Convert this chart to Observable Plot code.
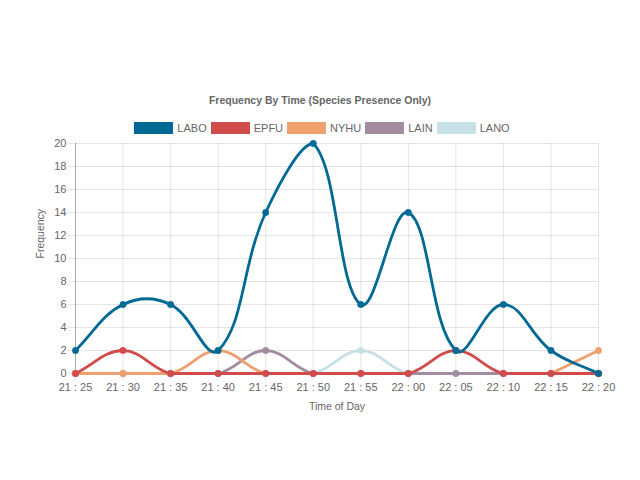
<!DOCTYPE html>
<html><head><meta charset="utf-8">
<script src="https://cdn.jsdelivr.net/npm/d3@7"></script>
<script src="https://cdn.jsdelivr.net/npm/@observablehq/plot@0.6"></script>
<style>
body{margin:0;background:#fff;font-family:"Liberation Sans",Arial,Helvetica,sans-serif;}
#wrap{width:640px;}
#title{margin-top:92px;height:16px;line-height:16px;text-align:center;font-weight:bold;font-size:10.5px;color:#666;}
#legend{margin-top:13px;height:14px;display:flex;justify-content:center;gap:4px;font-size:11px;color:#666;line-height:14px;padding-left:4px}
.item{display:flex;align-items:center}
.sw{width:39px;height:12px;margin-right:4px;box-sizing:border-box}
#chart{margin-top:1px;height:290px}
#chart svg{display:block}
</style></head><body>
<div id="wrap">
<div id="title">Frequency By Time (Species Presence Only)</div>
<div id="legend"></div>
<div id="chart"></div>
</div>
<script>
const times = ["21 : 25","21 : 30","21 : 35","21 : 40","21 : 45","21 : 50","21 : 55","22 : 00","22 : 05","22 : 10","22 : 15","22 : 20"];
const seriesNames = ["LABO","EPFU","NYHU","LAIN","LANO"];
const seriesColors = ["#006a94","#d14b4b","#eea06f","#a38ba0","#c6e1e6"];
const LABO = [2,6,6,2,14,20,6,14,2,6,2,0];
const EPFU = [0,2,0,0,0,0,0,0,2,0,0,0];
const NYHU = [0,0,0,2,0,0,0,null,null,null,0,2];
const LAIN = [0,0,0,0,2,0,0,0,0,0,0,0];
const LANO = [0,0,0,0,0,0,2,0,0,0,0,0];
const yTicks = [0,2,4,6,8,10,12,14,16,18,20];
const xTitle = "Time of Day";
const yTitle = "Frequency";

const seriesValues = [LABO, EPFU, NYHU, LAIN, LANO];

// legend
const legend = document.getElementById("legend");
seriesNames.forEach((name, i) => {
  const it = document.createElement("div"); it.className = "item";
  const sw = document.createElement("div"); sw.className = "sw"; sw.style.background = seriesColors[i];
  const tx = document.createElement("span"); tx.textContent = name;
  it.appendChild(sw); it.appendChild(tx); legend.appendChild(it);
});

const W = 640, H = 290, mT = 7, mB = 53, mL = 75, mR = 42;

// Chart.js-like tension curve (tension 0.4) with control points capped to chart area
function chartjsCurve(context) {
  let pts = [];
  const left = mL, right = W - mR, top = mT, bottom = H - mB, t = 0.4;
  const cap = (v, a, b) => Math.max(a, Math.min(b, v));
  return {
    areaStart() {}, areaEnd() {},
    lineStart() { pts = []; },
    point(x, y) { pts.push([+x, +y]); },
    lineEnd() {
      const n = pts.length;
      if (!n) return;
      const cps = pts.map((p, i) => {
        const prev = pts[i - 1] || p, next = pts[i + 1] || p;
        const d01 = Math.hypot(p[0] - prev[0], p[1] - prev[1]);
        const d12 = Math.hypot(next[0] - p[0], next[1] - p[1]);
        let s01 = d01 / (d01 + d12), s12 = d12 / (d01 + d12);
        if (isNaN(s01)) s01 = 0; if (isNaN(s12)) s12 = 0;
        const fa = t * s01, fb = t * s12;
        return {
          px: cap(p[0] - fa * (next[0] - prev[0]), left, right),
          py: cap(p[1] - fa * (next[1] - prev[1]), top, bottom),
          nx: cap(p[0] + fb * (next[0] - prev[0]), left, right),
          ny: cap(p[1] + fb * (next[1] - prev[1]), top, bottom)
        };
      });
      context.moveTo(pts[0][0], pts[0][1]);
      for (let i = 1; i < n; i++) {
        context.bezierCurveTo(cps[i - 1].nx, cps[i - 1].ny, cps[i].px, cps[i].py, pts[i][0], pts[i][1]);
      }
    }
  };
}

const marks = [
  Plot.gridY(yTicks, {stroke: "#000", strokeOpacity: 0.1, strokeWidth: 1}),
  Plot.gridX(times, {stroke: "#000", strokeOpacity: 0.1, strokeWidth: 1}),
  Plot.axisY(yTicks, {tickSize: 7, tickPadding: 2, stroke: "#e6e6e6", fill: "#666", fontSize: 11, label: null}),
  Plot.axisX(times, {tickSize: 7, tickPadding: 3, stroke: "#e6e6e6", fill: "#666", fontSize: 11, label: null}),
  Plot.frame({anchor: "left", stroke: "#000", strokeOpacity: 0.25}),
  Plot.text([xTitle], {frameAnchor: "bottom", dy: 36, text: d => d, fill: "#666", fontSize: 10.5}),
  Plot.text([yTitle], {frameAnchor: "left", dx: -35, rotate: -90, text: d => d, fill: "#666", fontSize: 10.5})
];

for (let s = seriesNames.length - 1; s >= 0; s--) {
  const rows = times.map((time, i) => ({time, value: seriesValues[s][i]}));
  marks.push(Plot.line(rows, {x: "time", y: "value", stroke: seriesColors[s], strokeWidth: 2.8, curve: chartjsCurve}));
  marks.push(Plot.dot(rows.filter(d => d.value != null), {x: "time", y: "value", r: 3.2, fill: seriesColors[s], stroke: seriesColors[s], strokeWidth: 0.5}));
}

const chart = Plot.plot({
  width: W, height: H,
  marginTop: mT, marginBottom: mB, marginLeft: mL, marginRight: mR,
  style: {fontFamily: '"Liberation Sans", Arial, sans-serif', fontSize: "11px", color: "#666", background: "#fff"},
  x: {type: "point", domain: times, padding: 0, round: false},
  y: {domain: [0, 20]},
  marks
});
document.getElementById("chart").appendChild(chart);
</script>
</body></html>
